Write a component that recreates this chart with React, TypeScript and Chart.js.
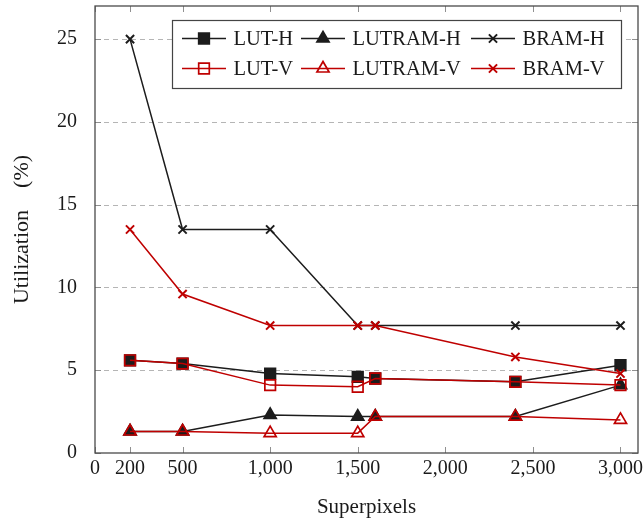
import React, { useEffect, useRef } from 'react';
import { Chart, registerables } from 'chart.js';

Chart.register(...registerables);

// ---- data ----
const X_VALUES = [200, 500, 1000, 1500, 1600, 2400, 3000];
const LUT_H = [5.6, 5.4, 4.8, 4.6, 4.5, 4.3, 5.3];
const LUTRAM_H = [1.3, 1.3, 2.3, 2.2, 2.2, 2.2, 4.1];
const BRAM_H = [25, 13.5, 13.5, 7.7, 7.7, 7.7, 7.7];
const LUT_V = [5.6, 5.4, 4.1, 4.0, 4.5, 4.3, 4.1];
const LUTRAM_V = [1.3, 1.3, 1.2, 1.2, 2.2, 2.2, 2.0];
const BRAM_V = [13.5, 9.6, 7.7, 7.7, 7.7, 5.8, 4.8];

const X_TICKS = [0, 200, 500, 1000, 1500, 2000, 2500, 3000];
const Y_TICKS = [0, 5, 10, 15, 20, 25];
const X_MIN = 0;
const X_MAX = 3100;
const Y_MIN = 0;
const Y_MAX = 27;

const X_TITLE = 'Superpixels';
const Y_TITLE = 'Utilization\u2003(%)';

const BLACK = '#1c1c1c';
const RED = '#bf0000';
const FONT = '"Liberation Serif", "Times New Roman", serif';

const toPoints = (ys: number[]) => X_VALUES.map((x, i) => ({ x, y: ys[i] }));

function drawMarker(ctx: CanvasRenderingContext2D, style: string, x: number, y: number, r: number, color: string, filled: boolean, lw: number) {
  ctx.save();
  ctx.strokeStyle = color;
  ctx.fillStyle = color;
  ctx.lineWidth = lw;
  ctx.beginPath();
  if (style === 'rect') {
    const s = Math.SQRT1_2 * r;
    ctx.rect(x - s, y - s, 2 * s, 2 * s);
    if (filled) ctx.fill();
    ctx.stroke();
  } else if (style === 'triangle') {
    ctx.moveTo(x, y - r);
    ctx.lineTo(x + r * Math.sin(Math.PI / 3), y + r * 0.5);
    ctx.lineTo(x - r * Math.sin(Math.PI / 3), y + r * 0.5);
    ctx.closePath();
    if (filled) ctx.fill();
    ctx.stroke();
  } else {
    const s = Math.SQRT1_2 * r;
    ctx.moveTo(x - s, y - s);
    ctx.lineTo(x + s, y + s);
    ctx.moveTo(x - s, y + s);
    ctx.lineTo(x + s, y - s);
    ctx.stroke();
  }
  ctx.restore();
}

const framePlugin = {
  id: 'frame',
  beforeDatasetsDraw(chart: any) {
    const { ctx, chartArea, scales } = chart;
    const { left, right, top, bottom } = chartArea;
    const ys = scales.y;
    const xs = scales.x;
    ctx.save();
    ctx.strokeStyle = '#b5b5b5';
    ctx.lineWidth = 1;
    ctx.setLineDash([5, 4]);
    Y_TICKS.forEach((v) => {
      if (v === Y_MIN) return;
      const py = Math.round(ys.getPixelForValue(v)) + 0.5;
      ctx.beginPath();
      ctx.moveTo(left, py);
      ctx.lineTo(right, py);
      ctx.stroke();
    });
    ctx.setLineDash([]);
    ctx.strokeStyle = '#909090';
    X_TICKS.forEach((v) => {
      const px = Math.round(xs.getPixelForValue(v)) + 0.5;
      ctx.beginPath();
      ctx.moveTo(px, bottom);
      ctx.lineTo(px, bottom - 6);
      ctx.moveTo(px, top);
      ctx.lineTo(px, top + 6);
      ctx.stroke();
    });
    Y_TICKS.forEach((v) => {
      const py = Math.round(ys.getPixelForValue(v)) + 0.5;
      ctx.beginPath();
      ctx.moveTo(left, py);
      ctx.lineTo(left + 6, py);
      ctx.moveTo(right, py);
      ctx.lineTo(right - 6, py);
      ctx.stroke();
    });
    ctx.restore();
  },
  afterDatasetsDraw(chart: any) {
    const { ctx, chartArea } = chart;
    const { left, right, top, bottom } = chartArea;
    ctx.save();
    ctx.strokeStyle = '#4a4a4a';
    ctx.lineWidth = 1.3;
    ctx.strokeRect(left, top, right - left, bottom - top);
    ctx.restore();
  },
};

const legendPlugin = {
  id: 'boxLegend',
  afterDraw(chart: any) {
    const { ctx } = chart;
    const bx = 172, by = 20, bw = 449, bh = 68;
    ctx.save();
    ctx.fillStyle = '#ffffff';
    ctx.fillRect(bx, by, bw, bh);
    ctx.strokeStyle = '#444444';
    ctx.lineWidth = 1.2;
    ctx.strokeRect(bx + 0.5, by + 0.5, bw, bh);
    const colX = [182, 301, 471];
    const rowY = [38.5, 68.5];
    const lineLen = 44;
    chart.data.datasets.forEach((ds: any, i: number) => {
      const row = Math.floor(i / 3);
      const col = i % 3;
      const x0 = colX[col];
      const y0 = rowY[row];
      ctx.strokeStyle = ds.borderColor;
      ctx.lineWidth = ds.borderWidth;
      ctx.beginPath();
      ctx.moveTo(x0, y0);
      ctx.lineTo(x0 + lineLen, y0);
      ctx.stroke();
      const filled = ds.pointBackgroundColor !== 'rgba(0,0,0,0)';
      drawMarker(ctx, ds.pointStyle, x0 + lineLen / 2, y0, ds.pointRadius, ds.borderColor, filled, ds.pointBorderWidth);
      ctx.fillStyle = '#1a1a1a';
      ctx.font = `20.5px ${FONT}`;
      ctx.textBaseline = 'alphabetic';
      ctx.textAlign = 'left';
      ctx.fillText(ds.label, x0 + 51.5, y0 + 6.8);
    });
    ctx.restore();
  },
};

function makeDataset(label: string, ys: number[], color: string, style: string, filled: boolean, order: number) {
  const radius = style === 'rect' ? 7.5 : style === 'triangle' ? 7 : 5.8;
  return {
    label,
    data: toPoints(ys),
    borderColor: color,
    backgroundColor: color,
    pointBackgroundColor: filled ? color : 'rgba(0,0,0,0)',
    pointBorderColor: color,
    pointStyle: style,
    pointRadius: radius,
    pointHoverRadius: radius,
    pointBorderWidth: style === 'crossRot' ? 2 : 1.7,
    borderWidth: 1.5,
    tension: 0,
    fill: false,
    order,
  };
}

export default function App() {
  const ref = useRef<HTMLCanvasElement | null>(null);
  useEffect(() => {
    if (!ref.current) return;
    const axisFont = { family: FONT, size: 20 };
    const chart = new Chart(ref.current, {
      type: 'line',
      data: {
        datasets: [
          makeDataset('LUT-H', LUT_H, BLACK, 'rect', true, 1),
          makeDataset('LUTRAM-H', LUTRAM_H, BLACK, 'triangle', true, 1),
          makeDataset('BRAM-H', BRAM_H, BLACK, 'crossRot', true, 1),
          makeDataset('LUT-V', LUT_V, RED, 'rect', false, 0),
          makeDataset('LUTRAM-V', LUTRAM_V, RED, 'triangle', false, 0),
          makeDataset('BRAM-V', BRAM_V, RED, 'crossRot', true, 0),
        ] as any,
      },
      options: {
        responsive: false,
        animation: false,
        devicePixelRatio: 1,
        layout: { autoPadding: false, padding: { top: 6, right: 6, left: 0, bottom: 0 } },
        plugins: {
          legend: { display: false },
          tooltip: { enabled: false },
        },
        scales: {
          x: {
            type: 'linear',
            min: X_MIN,
            max: X_MAX,
            grid: { display: false, drawTicks: false },
            border: { display: false },
            afterBuildTicks: (s: any) => {
              s.ticks = X_TICKS.map((v) => ({ value: v }));
            },
            afterFit: (s: any) => {
              s.height = 71;
              s.paddingLeft = 0;
              s.paddingRight = 0;
            },
            ticks: {
              font: axisFont,
              color: '#1a1a1a',
              padding: 4,
              maxRotation: 0,
              autoSkip: false,
              callback: (v: any) => Number(v).toLocaleString('en-US'),
            },
            title: {
              display: true,
              text: X_TITLE,
              font: { family: FONT, size: 21 },
              color: '#1a1a1a',
              padding: { top: 0, bottom: 4 },
            },
          },
          y: {
            type: 'linear',
            min: Y_MIN,
            max: Y_MAX,
            grid: { display: false, drawTicks: false },
            border: { display: false },
            afterBuildTicks: (s: any) => {
              s.ticks = Y_TICKS.map((v) => ({ value: v }));
            },
            afterFit: (s: any) => {
              s.width = 95;
              s.paddingTop = 0;
              s.paddingBottom = 0;
            },
            ticks: {
              font: axisFont,
              color: '#1a1a1a',
              padding: 18,
              autoSkip: false,
            },
            title: {
              display: true,
              text: Y_TITLE,
              font: { family: FONT, size: 22 },
              color: '#1a1a1a',
              padding: { top: 9, bottom: 0 },
            },
          },
        },
      } as any,
      plugins: [framePlugin, legendPlugin],
    });
    return () => chart.destroy();
  }, []);
  return (
    <div style={{ position: 'absolute', left: 0, top: 0, width: 644, height: 524, background: '#fff' }}>
      <canvas ref={ref} width={644} height={524} style={{ display: 'block' }} />
    </div>
  );
}
